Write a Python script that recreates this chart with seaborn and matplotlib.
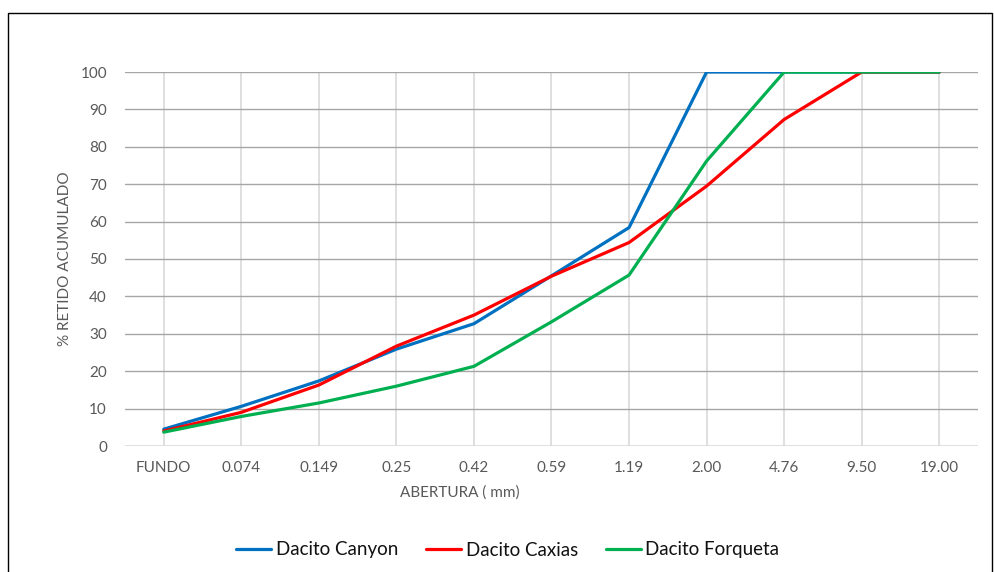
import matplotlib
matplotlib.use("Agg")
import matplotlib.pyplot as plt
from matplotlib.patches import Rectangle
import seaborn as sns
import pandas as pd

# Sieve openings (mm) and cumulative retained percentage per sample
aberturas = ["FUNDO", "0.074", "0.149", "0.25", "0.42", "0.59", "1.19", "2.00", "4.76", "9.50", "19.00"]
canyon = [4.5, 10.6, 17.4, 25.9, 32.7, 45.5, 58.4, 100, 100, 100, 100]
caxias = [4.0, 9.0, 16.3, 26.7, 35.0, 45.4, 54.4, 69.5, 87.3, 100, 100]
forqueta = [3.7, 7.9, 11.5, 16.0, 21.3, 33.2, 45.7, 76.2, 100, 100, 100]

series_names = ["Dacito Canyon", "Dacito Caxias", "Dacito Forqueta"]
series_values = [canyon, caxias, forqueta]
colors = ["#0070C0", "#FF0000", "#00B050"]
y_ticks = list(range(0, 101, 10))

rows = []
for name, vals in zip(series_names, series_values):
    for i, v in enumerate(vals):
        rows.append({"pos": i, "retido": v, "amostra": name})
df = pd.DataFrame(rows)

sns.set_theme(style="white")
plt.rcParams["font.family"] = ["Lato", "DejaVu Sans"]

fig = plt.figure(figsize=(9.95, 5.72), dpi=100)
ax = fig.add_axes([125 / 995, 1 - 446 / 572, 853 / 995, 374 / 572])

sns.lineplot(data=df, x="pos", y="retido", hue="amostra", hue_order=series_names,
             palette=colors, sort=False, linewidth=2.3, ax=ax, legend=False)

ax.set_xlim(-0.5, len(aberturas) - 0.5)
ax.set_ylim(0, 100)
ax.set_xticks(range(len(aberturas)))
ax.set_xticklabels(aberturas)
ax.set_yticks(y_ticks)
ax.set_yticklabels([str(t) for t in y_ticks])
ax.tick_params(axis="both", length=0, labelsize=11, labelcolor="#595959")
ax.tick_params(axis="x", pad=11)
ax.tick_params(axis="y", pad=13)

# Gridlines: darker horizontal lines, faint vertical lines at each sieve
for t in y_ticks[1:]:
    ax.axhline(t, color="#a6a6a6", linewidth=1.0, zorder=0.5)
for i in range(len(aberturas)):
    ax.axvline(i, color="#d9d9d9", linewidth=1.2, zorder=0.4)
ax.axhline(0, color="#d9d9d9", linewidth=1.2, zorder=0.6)

for s in ax.spines.values():
    s.set_visible(False)

ax.set_xlabel("")
ax.set_ylabel("")
fig.text(460 / 995, 1 - 493 / 572, "ABERTURA ( mm)", ha="center", va="center",
         fontsize=11, color="#595959")
fig.text(65 / 995, 1 - 259 / 572, "% RETIDO ACUMULADO", ha="center", va="center",
         rotation=90, fontsize=11, color="#595959")

handles = [plt.Line2D([], [], color=c, linewidth=2.3) for c in colors]
fig.legend(handles, series_names, loc="center", bbox_to_anchor=(508 / 995, 1 - 550 / 572),
           ncol=3, frameon=False, fontsize=13.5, handlelength=1.85, handletextpad=0.25,
           columnspacing=1.5, labelcolor="#111111")

# Outer chart frame
fig.patches.append(Rectangle((8 / 995, -0.05), (992 - 8) / 995, 1 - 13 / 572 + 0.05,
                             transform=fig.transFigure, fill=False,
                             edgecolor="black", linewidth=1.0))

fig.savefig("out.png", dpi=100)
